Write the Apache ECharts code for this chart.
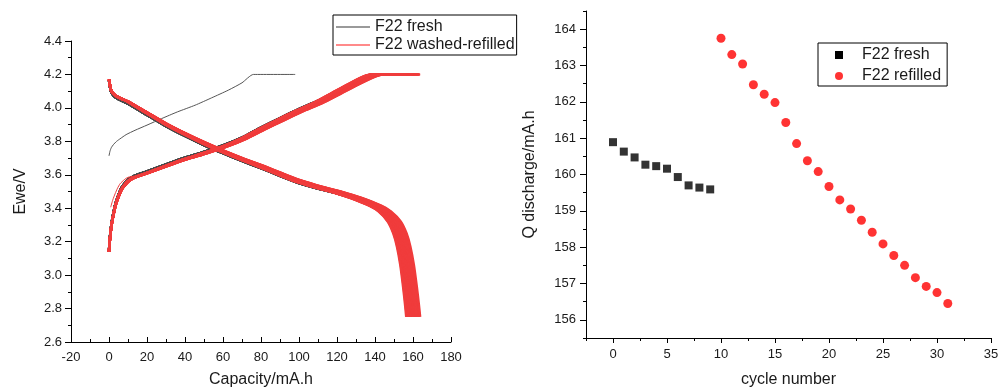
<!DOCTYPE html>
<html>
<head>
<meta charset="utf-8">
<title>F22 cycling</title>
<script src="https://cdn.jsdelivr.net/npm/echarts@6/dist/echarts.min.js"></script>
<style>
  html, body { margin: 0; padding: 0; background: #ffffff; }
  #chart { width: 1004px; height: 388px; }
</style>
</head>
<body>
<div id="chart"></div>
<script>
// ---- cycle-by-cycle discharge capacity (mA.h) ----
const freshCycles = [0, 1, 2, 3, 4, 5, 6, 7, 8, 9];
const freshQ = [160.89, 160.63, 160.47, 160.27, 160.23, 160.16, 159.93, 159.70, 159.64, 159.59];
const refilledCycles = [10, 11, 12, 13, 14, 15, 16, 17, 18, 19, 20, 21, 22, 23, 24, 25, 26, 27, 28, 29, 30, 31];
const refilledQ = [163.75, 163.30, 163.04, 162.47, 162.21, 161.98, 161.43, 160.85, 160.38, 160.08, 159.67,
                   159.30, 159.05, 158.74, 158.41, 158.09, 157.77, 157.50, 157.16, 156.92, 156.75, 156.45];

// ---- voltage profiles of one cycle, given at a cycle capacity of PROFILE_Q ----
const PROFILE_Q = 160;
const CUTOFF_V = 4.2;

const chargeCap = [0, 0.3, 0.8, 1.5, 2.5, 3.5, 5, 6.5, 8, 10, 12, 15, 20, 30, 40, 50, 60, 70, 80, 90, 100,
                   110, 120, 130, 138, 142];
const freshChargeV = [3.14, 3.20, 3.26, 3.32, 3.38, 3.43, 3.48, 3.52, 3.545, 3.57, 3.585, 3.60, 3.62, 3.662,
                      3.702, 3.737, 3.775, 3.822, 3.882, 3.938, 3.992, 4.042, 4.10, 4.16, 4.197, 4.2];
const refilledChargeV = [3.14, 3.19, 3.25, 3.31, 3.37, 3.42, 3.47, 3.51, 3.535, 3.56, 3.575, 3.59, 3.61, 3.652,
                         3.692, 3.727, 3.765, 3.812, 3.87, 3.926, 3.98, 4.03, 4.09, 4.15, 4.192, 4.2];

const dischargeCap = [0, 1, 2.5, 5, 10, 20, 30, 40, 50, 60, 70, 80, 90, 100, 110, 120, 130, 140, 145, 150,
                      153, 155, 156.8, 158.3, 159.3, 160];
const freshDischargeV = [4.165, 4.10, 4.072, 4.052, 4.026, 3.958, 3.891, 3.832, 3.778, 3.729, 3.683, 3.64, 3.594,
                         3.551, 3.518, 3.489, 3.453, 3.408, 3.374, 3.315, 3.245, 3.166, 3.057, 2.928, 2.829, 2.75];
const refilledDischargeV = [4.17, 4.11, 4.083, 4.063, 4.038, 3.97, 3.903, 3.844, 3.79, 3.74, 3.694, 3.651, 3.605,
                            3.561, 3.527, 3.497, 3.461, 3.415, 3.381, 3.321, 3.25, 3.17, 3.06, 2.93, 2.83, 2.75];

// ---- first charge of each cell ----
const freshFirstCap = [0, 0.5, 1.2, 2.3, 4, 5.8, 9, 13.7, 20, 27.7, 36, 45.3, 54, 62.8, 70, 76, 98];
const freshFirstV = [3.713, 3.74, 3.762, 3.78, 3.80, 3.815, 3.84, 3.866, 3.897, 3.936, 3.976, 4.016, 4.06, 4.106,
                     4.15, 4.2, 4.2];
const refilledFirstCap = [0.9, 2, 3.2, 4.5, 5.8, 8, 10, 15, 20, 30, 40, 50, 60, 70, 80, 90, 100, 110, 120, 130,
                          138, 142, 163.75];
const refilledFirstV = [3.406, 3.45, 3.486, 3.52, 3.546, 3.57, 3.585, 3.595, 3.612, 3.652, 3.692, 3.727, 3.765,
                        3.812, 3.87, 3.926, 3.98, 4.03, 4.09, 4.15, 4.192, 4.2, 4.2];

// ---- axis ticks ----
const capTicks = [-20, 0, 20, 40, 60, 80, 100, 120, 140, 160, 180];
const eweTicks = [2.6, 2.8, 3.0, 3.2, 3.4, 3.6, 3.8, 4.0, 4.2, 4.4];
const cycleTicks = [0, 5, 10, 15, 20, 25, 30, 35];
const qTicks = [156, 157, 158, 159, 160, 161, 162, 163, 164];
const cycleRange = [-2.5, 35];
const qRange = [155.5, 164.5];

const FONT = "'Liberation Sans', Arial, Helvetica, sans-serif";
const TXT = '#1a1a1a';
const DARK = '#4a4a4a';
const RED = '#f03c3c';

function zip(xs, ys) { return xs.map((x, i) => [x, ys[i]]); }

// a cycle's curve: profile stretched to that cycle's capacity
function chargeCurve(volts, q) {
  const k = q / PROFILE_Q;
  const pts = chargeCap.map((c, i) => [c * k, volts[i]]);
  pts.push([q, CUTOFF_V]);                     // constant-voltage step
  return pts;
}
function dischargeCurve(volts, q) {
  const k = q / PROFILE_Q;
  return dischargeCap.map((c, i) => [c * k, volts[i]]);
}

const curveBase = {
  type: 'line', xAxisIndex: 0, yAxisIndex: 0, symbol: 'none', showSymbol: false,
  smooth: 0.2, silent: true, animation: false
};

const series = [];
series.push(Object.assign({}, curveBase, {
  name: 'F22 fresh', data: zip(freshFirstCap, freshFirstV),
  lineStyle: { color: '#555555', width: 1 }, itemStyle: { color: '#555555' }
}));
freshQ.forEach(q => {
  series.push(Object.assign({}, curveBase, {
    name: 'F22 fresh', data: chargeCurve(freshChargeV, q),
    lineStyle: { color: DARK, width: 2.5 }, itemStyle: { color: DARK }
  }));
  series.push(Object.assign({}, curveBase, {
    name: 'F22 fresh', data: dischargeCurve(freshDischargeV, q),
    lineStyle: { color: DARK, width: 2.5 }, itemStyle: { color: DARK }
  }));
});
series.push(Object.assign({}, curveBase, {
  name: 'F22 washed-refilled', data: zip(refilledFirstCap, refilledFirstV),
  lineStyle: { color: RED, width: 1 }, itemStyle: { color: RED }
}));
refilledQ.forEach(q => {
  series.push(Object.assign({}, curveBase, {
    name: 'F22 washed-refilled', data: chargeCurve(refilledChargeV, q),
    lineStyle: { color: RED, width: 2.5 }, itemStyle: { color: RED }
  }));
  series.push(Object.assign({}, curveBase, {
    name: 'F22 washed-refilled', data: dischargeCurve(refilledDischargeV, q),
    lineStyle: { color: RED, width: 2.5 }, itemStyle: { color: RED }
  }));
});

// capacity retention points
series.push({
  type: 'scatter', name: 'F22 fresh', xAxisIndex: 1, yAxisIndex: 1,
  data: zip(freshCycles, freshQ), symbol: 'rect', symbolSize: 8,
  itemStyle: { color: '#000000' }, silent: true, animation: false, z: 5
});
series.push({
  type: 'scatter', name: 'F22 refilled', xAxisIndex: 1, yAxisIndex: 1,
  data: zip(refilledCycles, refilledQ), symbol: 'circle', symbolSize: 9,
  itemStyle: { color: '#ff0000' }, silent: true, animation: false, z: 5
});

function shownLine() { return { show: true, onZero: false, lineStyle: { color: '#000000', width: 1 } }; }
function hiddenLine() { return { show: false, onZero: false }; }
function tick(len, inside) { return { show: true, inside: !!inside, length: len, lineStyle: { color: '#000000', width: 1 } }; }
function labels(margin, list, fmt) {
  return {
    show: true, color: TXT, fontFamily: FONT, fontSize: 13, lineHeight: 13, margin: margin,
    formatter: v => list.some(t => Math.abs(t - v) < 1e-6) ? fmt(v) : ''
  };
}
const nameStyle = { color: TXT, fontFamily: FONT, fontSize: 16 };

const option = {
  backgroundColor: '#ffffff',
  animation: false,
  grid: [
    { left: 71, top: 41, width: 380, height: 301, outerBoundsMode: 'none' },   // voltage profiles
    { left: 586, top: 11, width: 405, height: 327, outerBoundsMode: 'none' },  // retention: frame, minor ticks, labels
    { left: 613, top: 29, width: 378, height: 291, outerBoundsMode: 'none' }   // retention: major ticks
  ],
  xAxis: [
    {
      gridIndex: 0, type: 'value', min: -20, max: 180, interval: 20,
      name: 'Capacity/mA.h', nameLocation: 'middle', nameGap: 30, nameTextStyle: nameStyle,
      axisLine: shownLine(), axisTick: tick(5, true),
      minorTick: { show: true, splitNumber: 2, length: 3, lineStyle: { color: '#000000' } },
      axisLabel: labels(9, capTicks, v => String(v)), splitLine: { show: false }
    },
    {
      gridIndex: 1, type: 'value', min: cycleRange[0], max: cycleRange[1], interval: 2.5,
      name: 'cycle number', nameLocation: 'middle', nameGap: 34, nameTextStyle: nameStyle,
      axisLine: shownLine(), axisTick: tick(3),
      axisLabel: labels(10, cycleTicks, v => String(v)), splitLine: { show: false }
    },
    {
      gridIndex: 2, type: 'value', min: 0, max: 35, interval: 5, offset: 18,
      axisLine: hiddenLine(), axisTick: tick(5),
      axisLabel: { show: false }, splitLine: { show: false }
    }
  ],
  yAxis: [
    {
      gridIndex: 0, type: 'value', min: 2.6, max: 4.4, interval: 0.2,
      name: 'Ewe/V', nameLocation: 'middle', nameGap: 42, nameRotate: 90, nameTextStyle: nameStyle,
      axisLine: shownLine(), axisTick: tick(6),
      minorTick: { show: true, splitNumber: 2, length: 3, lineStyle: { color: '#000000' } },
      axisLabel: labels(9, eweTicks, v => v.toFixed(1)), splitLine: { show: false }
    },
    {
      gridIndex: 1, type: 'value', min: qRange[0], max: qRange[1], interval: 0.5,
      name: 'Q discharge/mA.h', nameLocation: 'middle', nameGap: 48, nameRotate: 90, nameTextStyle: nameStyle,
      axisLine: shownLine(), axisTick: tick(3),
      axisLabel: labels(10, qTicks, v => String(v)), splitLine: { show: false }
    },
    {
      gridIndex: 2, type: 'value', min: 156, max: 164, interval: 1, offset: 27,
      axisLine: hiddenLine(), axisTick: tick(6),
      axisLabel: { show: false }, splitLine: { show: false }
    }
  ],
  legend: [
    {
      left: 333, top: 15, orient: 'vertical', selectedMode: false,
      padding: [4, 2, 2, 3], itemGap: 2, itemWidth: 34, itemHeight: 2,
      borderColor: '#000', borderWidth: 1, backgroundColor: '#ffffff',
      textStyle: { color: TXT, fontFamily: FONT, fontSize: 16, lineHeight: 16 },
      data: [
        { name: 'F22 fresh', icon: 'rect', itemStyle: { color: '#9a9a9a' } },
        { name: 'F22 washed-refilled', icon: 'rect', itemStyle: { color: '#ff8a8a' } }
      ]
    },
    {
      left: 818, top: 43, orient: 'vertical', selectedMode: false,
      padding: [4, 6, 2, 17], itemGap: 5, itemWidth: 8, itemHeight: 8,
      borderColor: '#000', borderWidth: 1, backgroundColor: '#ffffff',
      textStyle: { color: TXT, fontFamily: FONT, fontSize: 16, lineHeight: 16, padding: [0, 0, 0, 14] },
      data: [
        { name: 'F22 fresh', icon: 'rect', itemStyle: { color: '#000000' } },
        { name: 'F22 refilled', icon: 'circle', itemStyle: { color: '#ff0000' } }
      ]
    }
  ],
  series: series
};

const chart = echarts.init(document.getElementById('chart'), null, { renderer: 'canvas' });
chart.setOption(option);

// L-shaped frame of the retention plot, placed through the plot's own scales
const toPx = p => chart.convertToPixel({ xAxisIndex: 1, yAxisIndex: 1 }, p).map(v => Math.round(v) + 0.5);
const frame = [[cycleRange[0], qRange[1]], [cycleRange[0], qRange[0]], [cycleRange[1], qRange[0]]].map(toPx);
chart.setOption({
  graphic: [{
    type: 'polyline', silent: true, z: 10,
    shape: { points: frame },
    style: { stroke: '#000000', lineWidth: 1, fill: null }
  }]
});
</script>
</body>
</html>
